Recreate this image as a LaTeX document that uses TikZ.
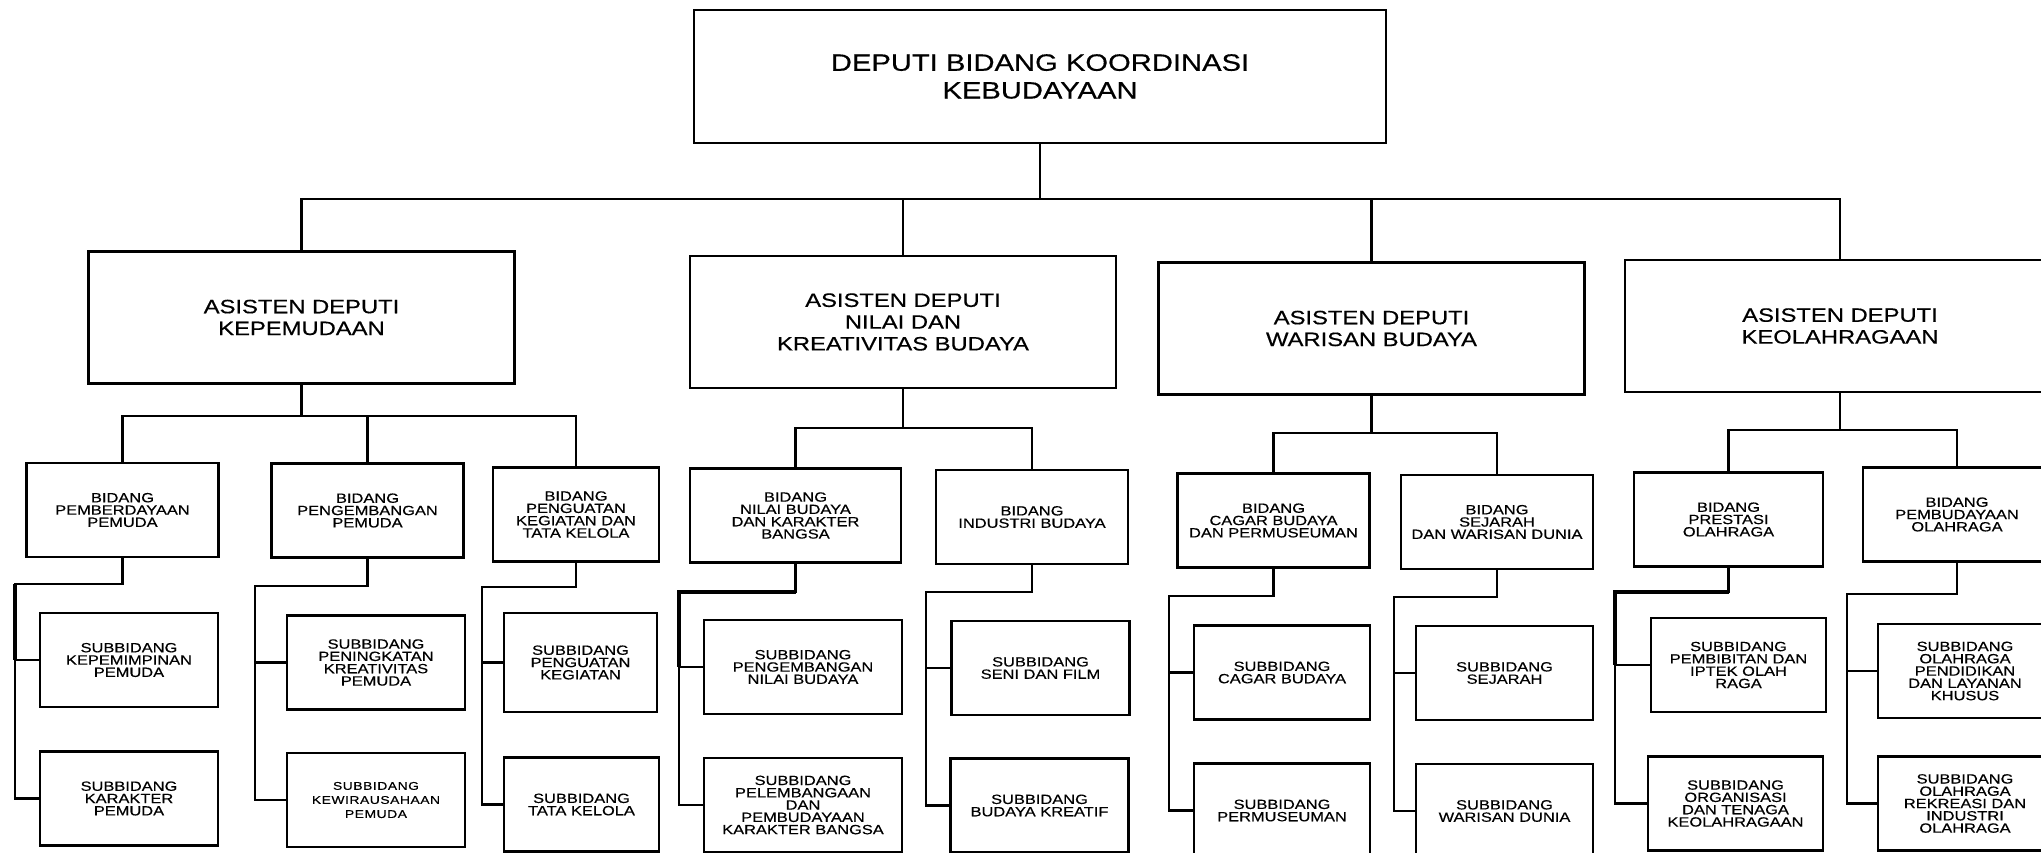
\documentclass[tikz,border=0pt]{standalone}
\usepackage{fontspec}
\setmainfont{Liberation Sans}[FakeStretch=1.23,FakeBold=0.5]
\tikzset{line/.style={black,line width=1.2pt}}
\tikzset{spine/.style={black,line width=2.6pt}}
\tikzset{box/.style={rectangle,draw=black,line width=1.4pt,align=center,inner sep=0pt}}
\tikzset{topblock/.style={box,minimum width=13.84cm,minimum height=2.66cm,font=\fontsize{13.5}{15.8}\selectfont}}
\tikzset{asblock/.style={box,minimum width=8.52cm,minimum height=2.64cm,font=\fontsize{11}{12.4}\selectfont}}
\tikzset{bidblock/.style={box,minimum width=3.84cm,minimum height=1.88cm,font=\fontsize{7.6}{7}\selectfont}}
\tikzset{subblock/.style={box,minimum width=3.56cm,minimum height=1.88cm,font=\fontsize{7.6}{7}\selectfont}}
\begin{document}
\begin{tikzpicture}[x=0.2mm,y=-0.2mm]
  \useasboundingbox (0,0) rectangle (2041,853);
  \clip (0,0) rectangle (2041,853);

  % Deputi
  \node[topblock] (top) at (1040,76.5) {DEPUTI BIDANG KOORDINASI\\KEBUDAYAAN};

  % Asisten deputi
  \node[asblock] (a1) at (301.5,317.5) {ASISTEN DEPUTI\\KEPEMUDAAN};
  \node[asblock] (a2) at (903,322) {ASISTEN DEPUTI\\NILAI DAN\\KREATIVITAS BUDAYA};
  \node[asblock] (a3) at (1371.5,328.5) {ASISTEN DEPUTI\\WARISAN BUDAYA};
  \node[asblock,minimum width=8.6cm] (a4) at (1840,326) {ASISTEN DEPUTI\\KEOLAHRAGAAN};

  % Bidang
  \node[bidblock] (b1) at (122.5,510) {BIDANG\\PEMBERDAYAAN\\PEMUDA};
  \node[bidblock] (b2) at (367.5,510.5) {BIDANG\\PENGEMBANGAN\\PEMUDA};
  \node[bidblock,minimum width=3.32cm] (b3) at (576,514.5) {BIDANG\\PENGUATAN\\KEGIATAN DAN\\TATA KELOLA};
  \node[bidblock,minimum width=4.22cm] (b4) at (795.5,515.5) {BIDANG\\NILAI BUDAYA\\DAN KARAKTER\\BANGSA};
  \node[bidblock] (b5) at (1032,517) {BIDANG\\INDUSTRI BUDAYA};
  \node[bidblock] (b6) at (1273.5,520.5) {BIDANG\\CAGAR BUDAYA\\DAN PERMUSEUMAN};
  \node[bidblock] (b7) at (1497,522) {BIDANG\\SEJARAH\\DAN WARISAN DUNIA};
  \node[bidblock,minimum width=3.78cm] (b8) at (1728.5,519.5) {BIDANG\\PRESTASI\\OLAHRAGA};
  \node[bidblock,minimum width=3.76cm] (b9) at (1957,514.5) {BIDANG\\PEMBUDAYAAN\\OLAHRAGA};

  % Subbidang
  \node[subblock] (sa1) at (129,660) {SUBBIDANG\\KEPEMIMPINAN\\PEMUDA};
  \node[subblock] (sb1) at (129,798.5) {SUBBIDANG\\KARAKTER\\PEMUDA};
  \node[subblock] (sa2) at (376,662.5) {SUBBIDANG\\PENINGKATAN\\KREATIVITAS\\PEMUDA};
  \node[subblock,font=\fontsize{6.4}{8}\selectfont\addfontfeatures{LetterSpace=5}] (sb2) at (376,800) {SUBBIDANG\\KEWIRAUSAHAAN\\PEMUDA};
  \node[subblock,minimum width=3.06cm,minimum height=1.98cm] (sa3) at (580.5,662.5) {SUBBIDANG\\PENGUATAN\\KEGIATAN};
  \node[subblock,minimum width=3.1cm] (sb3) at (581.5,804.5) {SUBBIDANG\\TATA KELOLA};
  \node[subblock,minimum width=3.96cm] (sa4) at (803,667) {SUBBIDANG\\PENGEMBANGAN\\NILAI BUDAYA};
  \node[subblock,minimum width=3.96cm] (sb4) at (803,805) {SUBBIDANG\\PELEMBANGAAN\\DAN\\PEMBUDAYAAN\\KARAKTER BANGSA};
  \node[subblock] (sa5) at (1040.5,668) {SUBBIDANG\\SENI DAN FILM};
  \node[subblock] (sb5) at (1039.5,805.5) {SUBBIDANG\\BUDAYA KREATIF};
  \node[subblock,minimum width=3.52cm] (sa6) at (1282,672.5) {SUBBIDANG\\CAGAR BUDAYA};
  \node[subblock,minimum width=3.52cm] (sb6) at (1282,810.5) {SUBBIDANG\\PERMUSEUMAN};
  \node[subblock,minimum width=3.54cm] (sa7) at (1504.5,673) {SUBBIDANG\\SEJARAH};
  \node[subblock,minimum width=3.54cm] (sb7) at (1504.5,811) {SUBBIDANG\\WARISAN DUNIA};
  \node[subblock,minimum width=3.5cm] (sa8) at (1738.5,665) {SUBBIDANG\\PEMBIBITAN DAN\\IPTEK OLAH\\RAGA};
  \node[subblock,minimum width=3.5cm] (sb8) at (1735.5,803.5) {SUBBIDANG\\ORGANISASI\\DAN TENAGA\\KEOLAHRAGAAN};
  \node[subblock,minimum width=3.48cm] (sa9) at (1965,671) {SUBBIDANG\\OLAHRAGA\\PENDIDIKAN\\DAN LAYANAN\\KHUSUS};
  \node[subblock,minimum width=3.48cm] (sb9) at (1965,803.5) {SUBBIDANG\\OLAHRAGA\\REKREASI DAN\\INDUSTRI\\OLAHRAGA};

  % Deputi -> asisten
  \coordinate (bus) at (1038,199);
  \draw[line] (top.south) -- (top.south |- bus);
  \draw[line] (a1.north) |- (bus) -| (a4.north);
  \draw[line] (bus -| a2.north) -- (a2.north);
  \draw[line] (bus -| a3.north) -- (a3.north);

  % Asisten -> bidang
  \coordinate (ja1) at (301,416);
  \coordinate (ja2) at (901,428);
  \coordinate (ja3) at (1370,433);
  \coordinate (ja4) at (1840,430);
  \draw[line] (a1.south) -- (a1.south |- ja1);
  \draw[line] (b1.north) |- (ja1) -| (b3.north);
  \draw[line] (ja1 -| b2.north) -- (b2.north);
  \draw[line] (a2.south) -- (a2.south |- ja2);
  \draw[line] (b4.north) |- (ja2) -| (b5.north);
  \draw[line] (a3.south) -- (a3.south |- ja3);
  \draw[line] (b6.north) |- (ja3) -| (b7.north);
  \draw[line] (a4.south) -- (a4.south |- ja4);
  \draw[line] (b8.north) |- (ja4) -| (b9.north);

  % Bidang -> subbidang
  \foreach \n/\sx/\jy in {1/15/584,2/255/586,3/482/587,4/679/592,5/926/592,6/1169/596,7/1394/597,8/1615/592,9/1847/594}
  {
    \coordinate (sp\n) at (\sx,\jy);
    \draw[line] (b\n.south) |- (sp\n) |- (sb\n.west);
    \draw[line] (sp\n |- sa\n.west) -- (sa\n.west);
  }
  \draw[spine] (sp1) -- (sp1 |- sa1.west);
  \draw[spine] (b4.south |- sp4) -- (sp4) -- (sp4 |- sa4.west);
  \draw[spine] (b8.south |- sp8) -- (sp8) -- (sp8 |- sa8.west);
\end{tikzpicture}
\end{document}
